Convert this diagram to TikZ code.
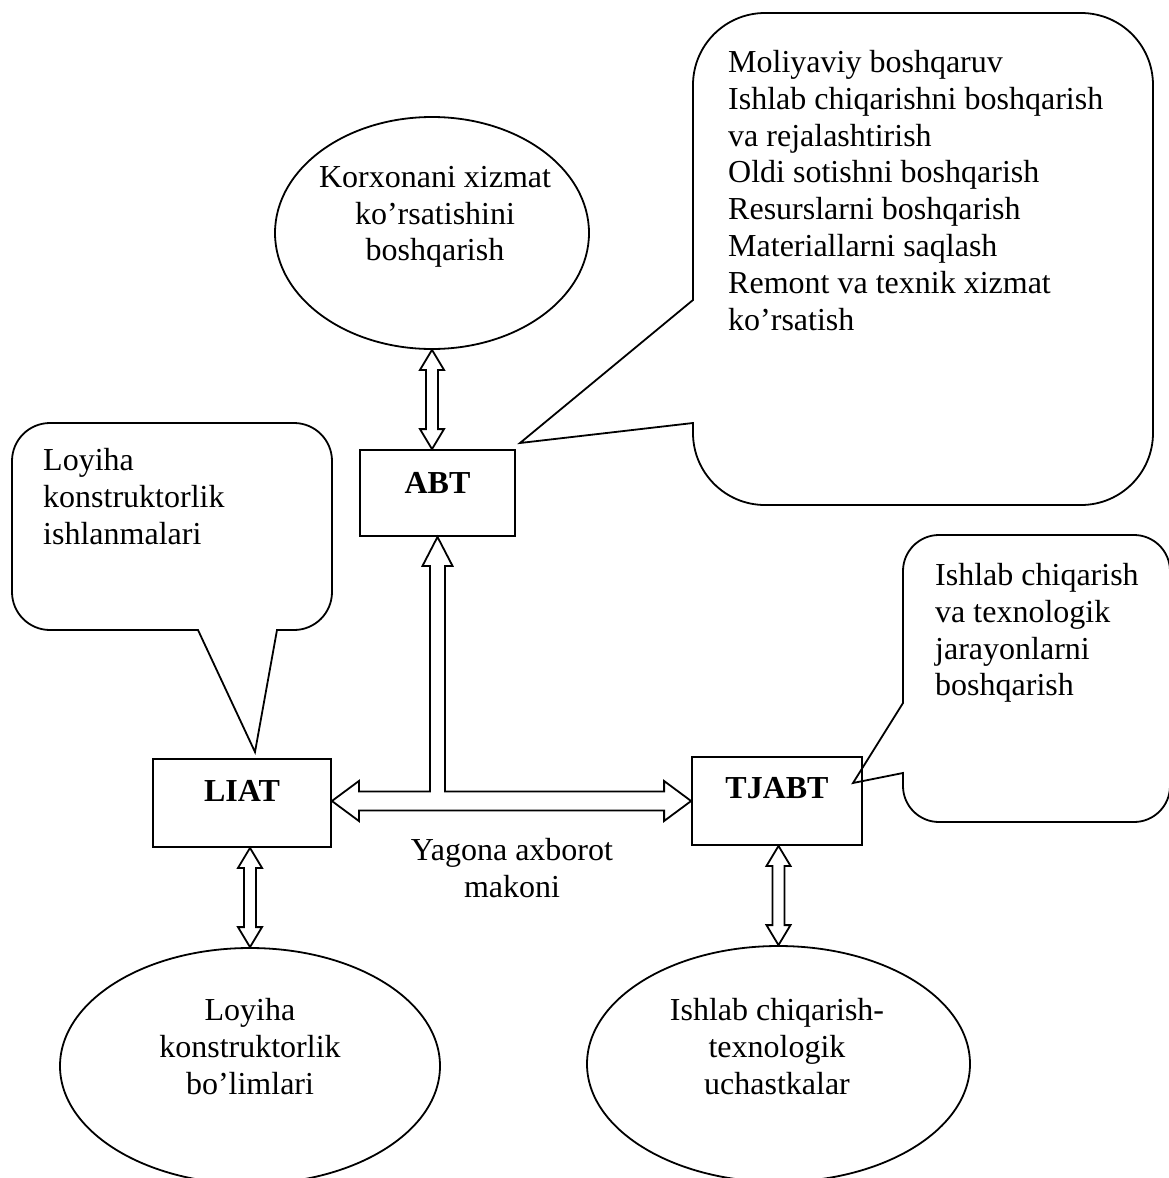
\documentclass[tikz,border=0pt]{standalone}
\usepackage{fontspec}
\setmainfont{Liberation Serif}
\usetikzlibrary{shapes.geometric,calc}
\newcommand\dvarrow[3]{%
  \draw[arr] let \p1=(#1), \p2=(#2), \p3=(#3) in
    (\x3,\y1) -- (\x3+12pt,\y1-20pt) -- (\x3+6pt,\y1-20pt) -- (\x3+6pt,\y2+20pt)
    -- (\x3+12pt,\y2+20pt) -- (\x3,\y2) -- (\x3-12pt,\y2+20pt) -- (\x3-6pt,\y2+20pt)
    -- (\x3-6pt,\y1-20pt) -- (\x3-12pt,\y1-20pt) -- cycle;}
\begin{document}
\begin{tikzpicture}[x=1pt,y=-1pt,line join=miter,
  ln/.style={line width=1.8pt},
  box/.style={draw,ln,rectangle,inner sep=0pt,anchor=base,font=\fontsize{32}{36.8}\selectfont\bfseries},
  ell/.style={draw,ln,ellipse,inner sep=0pt},
  txt/.style={inner sep=0pt,font=\fontsize{32}{36.8}\selectfont},
  arr/.style={draw,line width=1.8pt,fill=white},
  callout/.style={draw,ln}]
\useasboundingbox (0,0) rectangle (1169,1178);
\clip (0,0) rectangle (1169,1178);

% ellipses
\node[ell,minimum width=314pt,minimum height=232pt] (e1) at (432,233) {};
\node[ell,minimum width=380pt,minimum height=236pt] (e2) at (250,1066) {};
\node[ell,minimum width=383pt,minimum height=236pt] (e3) at (778.5,1064) {};

% boxes
\node[box,minimum width=155pt,text height=43pt,text depth=43pt] (abt) at (437.5,493) {ABT};
\node[box,minimum width=178pt,text height=42pt,text depth=46pt] (liat) at (242,801) {LIAT};
\node[box,minimum width=170pt,text height=41pt,text depth=47pt] (tjabt) at (777,798) {TJABT};

% callouts
\draw[callout] (693,300) [rounded corners=72pt] -- (693,13) -- (1153,13) -- (1153,505)
  -- (693,505) [sharp corners] -- (693,423) -- (520,443) -- cycle;
\draw[callout] (198,630) [rounded corners=38pt] -- (12,630) -- (12,423) -- (332,423)
  -- (332,630) [sharp corners] -- (277,630) -- (255,752) -- cycle;
\draw[callout] (903,773) [rounded corners=36pt] -- (903,822) -- (1170,822) -- (1170,535)
  -- (903,535) [sharp corners] -- (903,703) -- (853,783) -- cycle;

% arrows
\dvarrow{e1.south}{abt.north}{e1.south}
\dvarrow{liat.south}{e2.north}{e2.north}
\dvarrow{tjabt.south}{e3.north}{e3.north}
\draw[arr] let \p1=(liat.east), \p2=(tjabt.west), \p3=(abt.south) in
  (\x1,\y2) -- (\x1+27pt,\y2+20pt) -- (\x1+27pt,\y2+9.5pt) -- (\x3-7.5pt,\y2+9.5pt)
  -- (\x3-7.5pt,\y3-29pt) -- (\x3-15pt,\y3-29pt) -- (\x3,\y3) -- (\x3+15pt,\y3-29pt)
  -- (\x3+7.5pt,\y3-29pt) -- (\x3+7.5pt,\y2+9.5pt) -- (\x2-27pt,\y2+9.5pt)
  -- (\x2-27pt,\y2+20pt) -- (\x2,\y2) -- (\x2-27pt,\y2-20pt) -- (\x2-27pt,\y2-9.5pt)
  -- (\x1+27pt,\y2-9.5pt) -- (\x1+27pt,\y2-20pt) -- cycle;

% texts
\node[txt,anchor=north west,align=left] (t1) at (728,50) {Moliyaviy boshqaruv\\Ishlab chiqarishni boshqarish\\va rejalashtirish\\Oldi sotishni boshqarish\\Resurslarni boshqarish\\Materiallarni saqlash\\Remont va texnik xizmat\\ko’rsatish};
\node[txt,anchor=north west,align=left] (t2) at (43,448) {Loyiha\\konstruktorlik\\ishlanmalari};
\node[txt,anchor=north west,align=left] (t3) at (935,563) {Ishlab chiqarish\\va texnologik\\jarayonlarni\\boshqarish};
\node[txt,anchor=north,align=center] (t4) at (435,166) {Korxonani xizmat\\ko’rsatishini\\boshqarish};
\node[txt,anchor=north,align=center] (t5) at (250,998) {Loyiha\\konstruktorlik\\bo’limlari};
\node[txt,anchor=north,align=center] (t6) at (777,998) {Ishlab chiqarish-\\texnologik\\uchastkalar};
\node[txt,anchor=north,align=center] (t7) at (512,838) {Yagona axborot\\makoni};
\end{tikzpicture}
\end{document}
